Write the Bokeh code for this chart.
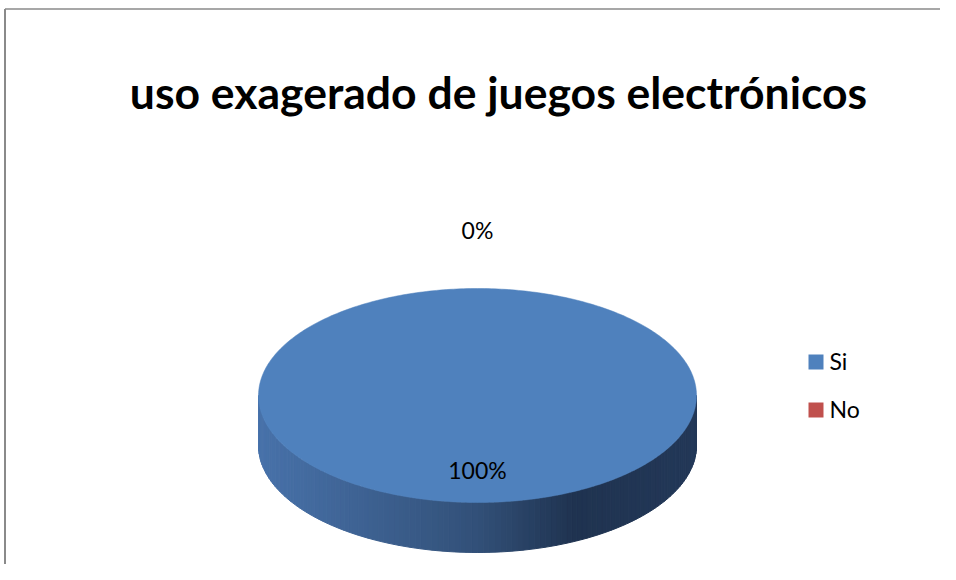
import numpy as np
from bokeh.plotting import figure
from bokeh.models import Range1d
from bokeh.core.properties import value
from bokeh.embed import file_html
from bokeh.resources import INLINE

# ---- data ----
title_text = "uso exagerado de juegos electrónicos"
categories = ["Si", "No"]
values = [100, 0]
colors = ["#4F81BD", "#C0504D"]

W, H = 940, 564
p = figure(width=W, height=H, x_range=Range1d(0, W), y_range=Range1d(H, 0),
           output_backend="svg", toolbar_location=None, min_border=0,
           x_axis_type=None, y_axis_type=None)
p.grid.visible = False
p.outline_line_color = None
p.background_fill_color = "white"

# frame of chart area
p.line([4.5, 4.5], [H, 8.5], line_color="#8a8a8a", line_width=2)
p.line([4.5, W], [8.5, 8.5], line_color="#8a8a8a", line_width=1.5)

# title
p.text([498], [91], text=[title_text], text_font=value("Lato"), text_font_style="bold",
       text_font_size="44.5px", text_align="center", text_baseline="alphabetic", text_color="black")

# pie geometry
cx, cy, a, b, depth = 477, 395, 219, 107, 50
total = float(sum(values))
fracs = [v / total for v in values]
starts = np.cumsum([0] + fracs[:-1]) * 2 * np.pi
ends = starts + np.array(fracs) * 2 * np.pi

def pt(theta, dy=0.0):
    return cx + a * np.sin(theta), cy - b * np.cos(theta) + dy

# side shading stops
stops_t = [0.0, 0.5, 0.72, 1.0]
stops_c = [(72, 114, 170), (50, 80, 120), (31, 51, 80), (35, 56, 88)]

def shade(t, base):
    if base != colors[0]:
        r, g, bb = int(base[1:3], 16), int(base[3:5], 16), int(base[5:7], 16)
        f = 0.9 - 0.45 * t
        return "#%02x%02x%02x" % (int(r * f), int(g * f), int(bb * f))
    c = [np.interp(t, stops_t, [s[i] for s in stops_c]) for i in range(3)]
    return "#%02x%02x%02x" % tuple(int(round(v)) for v in c)

# side strips (front half: theta in [pi/2, 3pi/2])
xs_side, ys_side, cs_side = [], [], []
for s, e, col, f in zip(starts, ends, colors, fracs):
    if f <= 0:
        continue
    lo, hi = max(s, np.pi / 2), min(e, 3 * np.pi / 2)
    if hi <= lo:
        continue
    n = 120
    th = np.linspace(lo, hi, n + 1)
    for i in range(n):
        t0, t1 = th[i], th[i + 1]
        x0, y0 = pt(t0)
        x1, y1 = pt(t1)
        tm = ((x0 + x1) / 2 - (cx - a)) / (2 * a)
        xs_side.append([x0, x1, x1, x0])
        ys_side.append([y0, y1, y1 + depth, y0 + depth])
        cs_side.append(shade(tm, col))
p.patches(xs_side, ys_side, fill_color=cs_side, line_color=cs_side, line_width=1)

# top faces
for s, e, col, f in zip(starts, ends, colors, fracs):
    if f <= 0:
        continue
    th = np.linspace(s, e, 400)
    xs = list(cx + a * np.sin(th))
    ys = list(cy - b * np.cos(th))
    if f < 1:
        xs = [cx] + xs
        ys = [cy] + ys
    p.patch(xs, ys, fill_color=col, line_color=col, line_width=0.5)

# data labels
lx, ly, lt = [], [], []
for s, e, v, f in zip(starts, ends, values, fracs):
    mid = (s + e) / 2
    k = 0.7 if f > 0 else 1.545
    x, y = cx + a * k * np.sin(mid), cy - b * k * np.cos(mid)
    lx.append(x)
    ly.append(y)
    lt.append("%d%%" % round(v / total * 100))
p.text(lx, ly, text=lt, text_font=value("Lato"), text_font_size="23px",
       text_align="center", text_baseline="middle", text_color="black")

# legend
leg_x, leg_y0, leg_dy = 808, 354, 48
for i, (cat, col) in enumerate(zip(categories, colors)):
    y = leg_y0 + i * leg_dy
    p.quad(left=[leg_x], right=[leg_x + 15], top=[y], bottom=[y + 15], fill_color=col, line_color=None)
    p.text([leg_x + 21], [y + 6], text=[cat], text_font=value("Lato"), text_font_size="23px",
           text_align="left", text_baseline="alphabetic", text_color="black")

open("out.html", "w").write(file_html(p, INLINE))
